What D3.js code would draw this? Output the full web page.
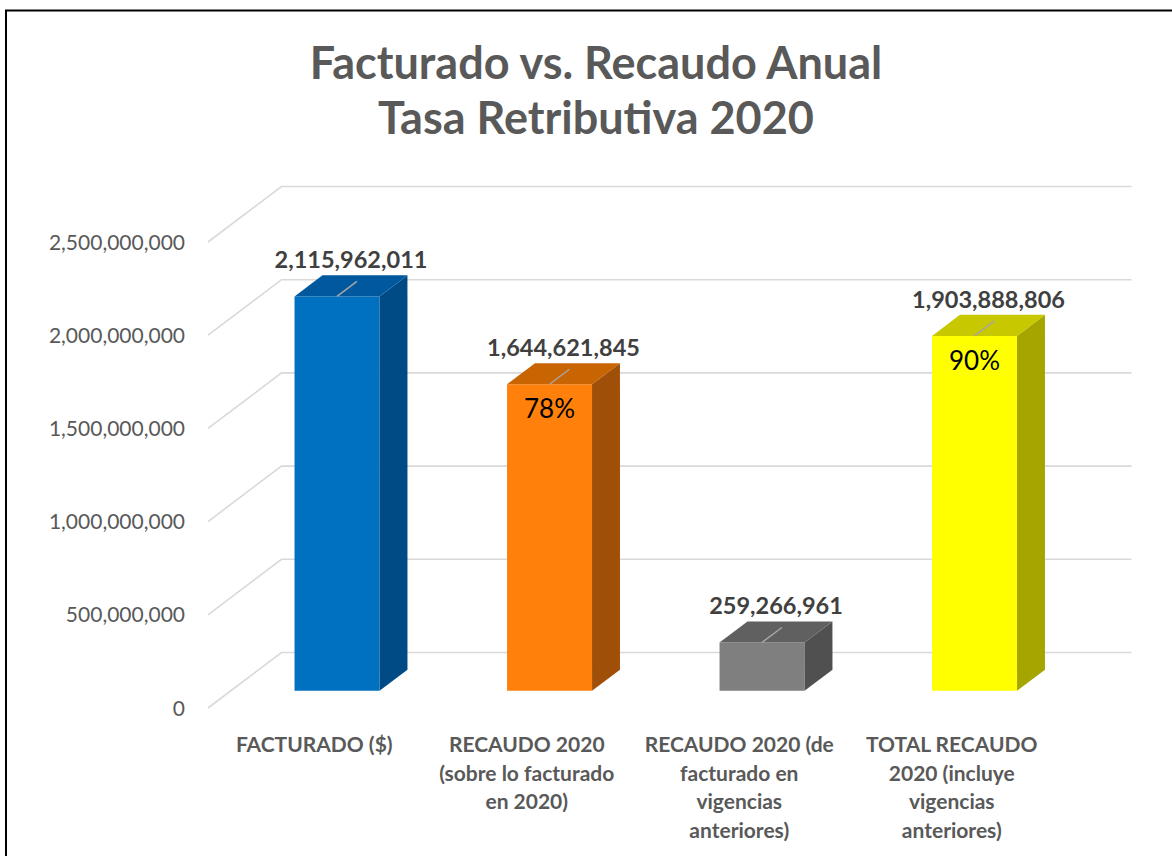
<!DOCTYPE html>
<html>
<head>
<meta charset="utf-8">
<script src="https://cdn.jsdelivr.net/npm/d3@7"></script>
<style>
  html, body { margin: 0; padding: 0; background: #fff; }
  svg { display: block; font-family: Lato, "Open Sans", sans-serif; }
</style>
</head>
<body>
<div id="chart"></div>
<script>
const W = 1172;
const H = 856;

// data
const categoryLines = [
  ["FACTURADO ($)"],
  ["RECAUDO 2020", "(sobre lo facturado", "en 2020)"],
  ["RECAUDO 2020 (de", "facturado en", "vigencias", "anteriores)"],
  ["TOTAL RECAUDO", "2020 (incluye", "vigencias", "anteriores)"],
];
const categories = categoryLines.map((l) => l.join(" "));
const values = [2115962011, 1644621845, 259266961, 1903888806];
const percentLabels = [null, "78%", null, "90%"];
const yTicks = [0, 500000000, 1000000000, 1500000000, 2000000000, 2500000000];
const titleLines = ["Facturado vs. Recaudo Anual", "Tasa Retributiva 2020"];

const faceColors = [
  { front: "#0070c0", top: "#00599f", side: "#004a85" },
  { front: "#ff800b", top: "#c96402", side: "#a04f08" },
  { front: "#7f7f7f", top: "#606060", side: "#505050" },
  { front: "#ffff00", top: "#c8c800", side: "#a5a500" },
];

// 3d layout: floor depth offset and where the bars sit in it
const DEPTH = { dx: 73.5, dy: -55.5 };
const BAR_FRONT = 0.31;
const BAR_BACK = 0.69;

const x = d3.scaleBand().domain(categories).range([208, 1058]).paddingInner(0).paddingOuter(0);
const xBar = d3.scaleBand().domain(categories).range([208, 1058]).paddingInner(0.6).paddingOuter(0.3);
const y = d3.scaleLinear().domain([0, 2500000000]).range([708, 242]);

const P = (px, v, depth) => [px + DEPTH.dx * depth, y(v) + DEPTH.dy * depth];
const fmt = d3.format(",");

const svg = d3.select("#chart").append("svg").attr("width", W).attr("height", H);

// outer frame
svg.append("rect")
  .attr("x", 6).attr("y", 10.5).attr("width", 1300).attr("height", 1000)
  .attr("fill", "#fff").attr("stroke", "#000").attr("stroke-width", 2);

// title
svg.append("g").selectAll("text").data(titleLines).join("text")
  .attr("x", 596)
  .attr("y", (d, i) => 79 + i * 55)
  .attr("text-anchor", "middle")
  .attr("font-size", 45)
  .attr("font-weight", 700)
  .attr("fill", "#595959")
  .text((d) => d);

// gridlines: front diagonal + back wall line
const [x0, x1] = x.range();
const grid = svg.append("g").attr("fill", "none").attr("stroke", "#d9d9d9").attr("stroke-width", 1.6);
grid.selectAll("path").data(yTicks).join("path")
  .attr("d", (v) => {
    const a = P(x0, v, 0), b = P(x0, v, 1), c = P(x1, v, 1);
    return d3.line()([a, b, c]);
  });

// y axis labels
svg.append("g").selectAll("text").data(yTicks).join("text")
  .attr("x", 185)
  .attr("y", (v) => y(v))
  .attr("dy", "0.36em")
  .attr("text-anchor", "end")
  .attr("font-size", 21)
  .attr("fill", "#595959")
  .text((v) => fmt(v));

// bars
const bars = svg.append("g").selectAll("g").data(values).join("g");
bars.each(function (v, i) {
  const g = d3.select(this);
  const l = xBar(categories[i]);
  const r = l + xBar.bandwidth();
  const c = faceColors[i];
  const poly = (pts) => "M" + pts.map((p) => p.join(",")).join("L") + "Z";
  // front
  g.append("path").attr("fill", c.front)
    .attr("d", poly([P(l, 0, BAR_FRONT), P(r, 0, BAR_FRONT), P(r, v, BAR_FRONT), P(l, v, BAR_FRONT)]));
  // side
  g.append("path").attr("fill", c.side)
    .attr("d", poly([P(r, 0, BAR_FRONT), P(r, 0, BAR_BACK), P(r, v, BAR_BACK), P(r, v, BAR_FRONT)]));
  // top
  g.append("path").attr("fill", c.top)
    .attr("d", poly([P(l, v, BAR_FRONT), P(r, v, BAR_FRONT), P(r, v, BAR_BACK), P(l, v, BAR_BACK)]));
  // leader line
  const mid = l + xBar.bandwidth() / 2;
  g.append("path").attr("stroke", "#a6a6a6").attr("stroke-width", 1.5).attr("fill", "none")
    .attr("d", d3.line()([P(mid, v, BAR_FRONT), P(mid, v, 0.58)]));
  // value label
  const lab = P(mid, v, 0.5);
  const backTop = P(mid, v, BAR_BACK)[1];
  g.append("text")
    .attr("x", lab[0])
    .attr("y", backTop - 7)
    .attr("text-anchor", "middle")
    .attr("font-size", 23.5)
    .attr("font-weight", 700)
    .attr("fill", "#404040")
    .text(fmt(v));
  // percent label
  if (percentLabels[i]) {
    const ft = P(mid, v, BAR_FRONT);
    g.append("text")
      .attr("x", ft[0])
      .attr("y", ft[1] + 34)
      .attr("text-anchor", "middle")
      .attr("font-size", 26)
      .attr("fill", "#000")
      .text(percentLabels[i]);
  }
});

// category labels
const cats = svg.append("g").selectAll("text").data(categoryLines).join("text")
  .attr("text-anchor", "middle")
  .attr("font-size", 21)
  .attr("font-weight", 700)
  .attr("fill", "#595959");
cats.each(function (lines, i) {
  const cx = x(categories[i]) + x.bandwidth() / 2;
  d3.select(this).selectAll("tspan").data(lines).join("tspan")
    .attr("x", cx)
    .attr("y", (d, j) => 752 + j * 28.7)
    .text((d) => d);
});
</script>
</body>
</html>
